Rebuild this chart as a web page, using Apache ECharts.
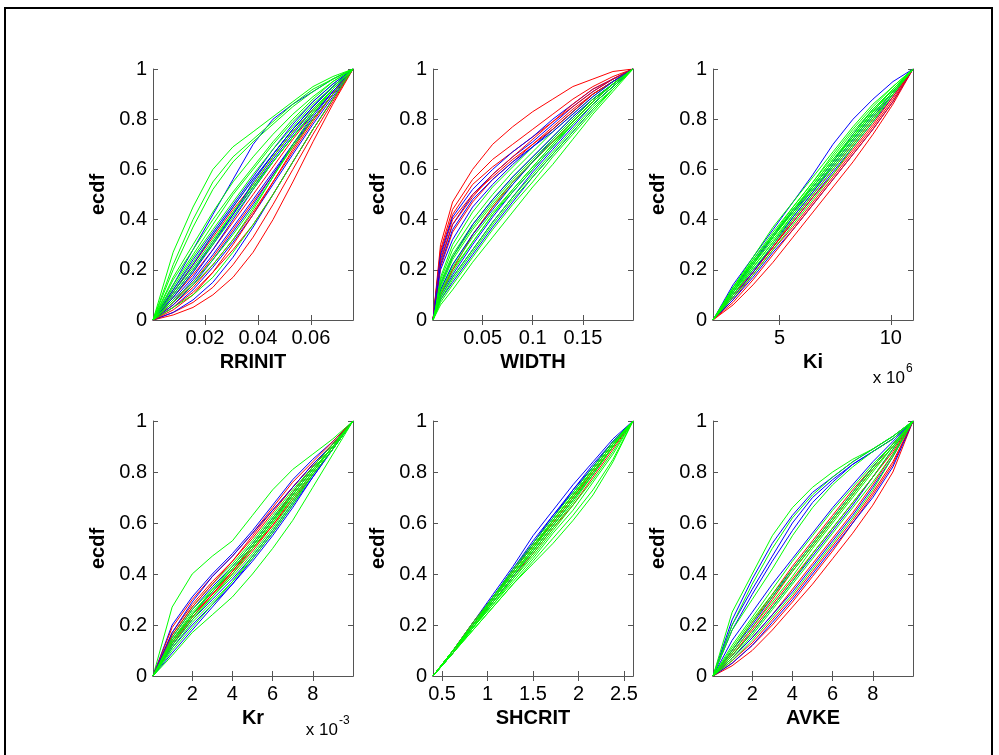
<!DOCTYPE html>
<html><head><meta charset="utf-8">
<script src="https://cdn.jsdelivr.net/npm/echarts@6/dist/echarts.min.js"></script>
<style>html,body{margin:0;padding:0;background:#fff}#c{width:999px;height:755px}</style>
</head><body><div id="c"></div>
<script>
// ---------- data ----------
const ecdfTicks = [0, 0.2, 0.4, 0.6, 0.8, 1];

const rrinitX = [0.0004,0.008,0.0155,0.023,0.0306,0.0382,0.0457,0.0532,0.0608,0.0683,0.0759];
const rrinitTicks = [0.02, 0.04, 0.06];
const rrinitCurves = [
 ['r',[0,0.02,0.05,0.10,0.17,0.27,0.40,0.55,0.71,0.86,1]],
 ['b',[0,0.14,0.28,0.42,0.56,0.70,0.80,0.86,0.91,0.96,1]],
 ['g',[0,0.27,0.45,0.60,0.69,0.75,0.81,0.87,0.93,0.97,1]],
 ['r',[0,0.03,0.07,0.13,0.22,0.33,0.46,0.60,0.74,0.87,1]],
 ['b',[0,0.10,0.20,0.31,0.42,0.53,0.64,0.74,0.84,0.92,1]],
 ['g',[0,0.20,0.37,0.52,0.63,0.71,0.78,0.85,0.91,0.96,1]],
 ['r',[0,0.06,0.13,0.22,0.32,0.43,0.55,0.67,0.79,0.90,1]],
 ['b',[0,0.07,0.16,0.26,0.37,0.48,0.59,0.70,0.80,0.90,1]],
 ['g',[0,0.17,0.30,0.43,0.55,0.65,0.74,0.82,0.89,0.95,1]],
 ['r',[0,0.09,0.18,0.28,0.39,0.50,0.61,0.72,0.82,0.91,1]],
 ['b',[0,0.05,0.12,0.21,0.31,0.42,0.54,0.66,0.78,0.89,1]],
 ['g',[0,0.14,0.26,0.38,0.50,0.60,0.70,0.79,0.87,0.94,1]],
 ['r',[0,0.11,0.22,0.33,0.44,0.54,0.65,0.75,0.84,0.92,1]],
 ['b',[0,0.03,0.08,0.15,0.25,0.37,0.50,0.63,0.76,0.88,1]],
 ['g',[0,0.12,0.23,0.34,0.45,0.56,0.66,0.76,0.85,0.93,1]],
 ['b',[0,0.08,0.17,0.28,0.40,0.52,0.63,0.73,0.82,0.91,1]],
 ['r',[0,0.07,0.15,0.25,0.36,0.47,0.58,0.69,0.80,0.90,1]],
 ['g',[0,0.09,0.19,0.31,0.43,0.54,0.65,0.75,0.84,0.92,1]],
 ['b',[0,0.06,0.14,0.24,0.35,0.46,0.58,0.70,0.81,0.91,1]],
 ['r',[0,0.04,0.10,0.19,0.30,0.42,0.55,0.68,0.80,0.90,1]],
 ['b',[0,0.12,0.24,0.35,0.46,0.57,0.68,0.78,0.87,0.94,1]],
 ['r',[0,0.05,0.11,0.19,0.28,0.38,0.50,0.63,0.76,0.88,1]],
 ['b',[0,0.09,0.19,0.30,0.42,0.55,0.66,0.76,0.85,0.93,1]],
 ['b',[0,0.11,0.22,0.34,0.45,0.56,0.66,0.76,0.85,0.93,1]],
 ['g',[0,0.13,0.25,0.36,0.47,0.58,0.68,0.77,0.86,0.93,1]],
 ['g',[0,0.10,0.20,0.30,0.41,0.52,0.63,0.73,0.83,0.92,1]],
 ['g',[0,0.07,0.14,0.22,0.32,0.44,0.57,0.70,0.82,0.92,1]],
 ['g',[0,0.08,0.15,0.24,0.34,0.45,0.57,0.69,0.80,0.90,1]],
 ['g',[0,0.22,0.40,0.55,0.65,0.72,0.79,0.86,0.92,0.96,1]],
 ['g',[0,0.05,0.10,0.17,0.27,0.38,0.50,0.63,0.76,0.88,1]],
 ['g',[0,0.11,0.21,0.32,0.43,0.53,0.63,0.73,0.83,0.92,1]],
 ['g',[0,0.16,0.28,0.40,0.51,0.61,0.71,0.80,0.88,0.95,1]]
];

const widthX = [0.0005,0.008,0.02,0.04,0.06,0.08,0.1,0.12,0.14,0.16,0.18,0.2];
const widthTicks = [0.05, 0.1, 0.15];
const widthCurves = [
 ['r',[0,0.30,0.47,0.60,0.70,0.77,0.83,0.88,0.93,0.96,0.99,1]],
 ['b',[0,0.24,0.38,0.50,0.58,0.65,0.71,0.78,0.85,0.91,0.96,1]],
 ['g',[0,0.17,0.30,0.43,0.53,0.61,0.69,0.76,0.83,0.90,0.95,1]],
 ['r',[0,0.27,0.42,0.54,0.61,0.67,0.73,0.79,0.85,0.91,0.96,1]],
 ['b',[0,0.20,0.32,0.45,0.54,0.62,0.69,0.76,0.83,0.90,0.95,1]],
 ['g',[0,0.15,0.26,0.38,0.48,0.57,0.65,0.73,0.81,0.88,0.94,1]],
 ['r',[0,0.25,0.40,0.50,0.57,0.64,0.70,0.77,0.84,0.90,0.95,1]],
 ['b',[0,0.14,0.25,0.38,0.48,0.57,0.65,0.73,0.81,0.88,0.94,1]],
 ['g',[0,0.12,0.22,0.34,0.45,0.54,0.63,0.71,0.79,0.87,0.94,1]],
 ['r',[0,0.21,0.35,0.47,0.56,0.63,0.70,0.76,0.83,0.90,0.95,1]],
 ['b',[0,0.10,0.18,0.30,0.41,0.51,0.60,0.69,0.78,0.86,0.93,1]],
 ['g',[0,0.11,0.20,0.31,0.42,0.51,0.60,0.69,0.78,0.86,0.93,1]],
 ['r',[0,0.10,0.20,0.34,0.45,0.55,0.63,0.71,0.79,0.87,0.94,1]],
 ['b',[0,0.08,0.15,0.26,0.37,0.47,0.57,0.66,0.75,0.84,0.92,1]],
 ['r',[0,0.28,0.44,0.56,0.64,0.70,0.76,0.82,0.88,0.93,0.97,1]],
 ['b',[0,0.26,0.41,0.52,0.60,0.67,0.73,0.80,0.86,0.92,0.96,1]],
 ['g',[0,0.16,0.28,0.40,0.50,0.59,0.67,0.75,0.82,0.89,0.95,1]],
 ['b',[0,0.12,0.22,0.34,0.44,0.54,0.63,0.72,0.80,0.88,0.94,1]],
 ['r',[0,0.23,0.38,0.49,0.58,0.65,0.72,0.79,0.86,0.92,0.96,1]],
 ['b',[0,0.09,0.17,0.28,0.39,0.49,0.59,0.68,0.77,0.86,0.93,1]],
 ['b',[0,0.22,0.36,0.48,0.56,0.63,0.69,0.75,0.82,0.89,0.95,1]],
 ['g',[0,0.09,0.17,0.28,0.39,0.49,0.58,0.67,0.76,0.85,0.92,1]],
 ['g',[0,0.07,0.14,0.25,0.36,0.46,0.55,0.65,0.74,0.83,0.92,1]],
 ['g',[0,0.06,0.12,0.23,0.33,0.43,0.53,0.62,0.72,0.82,0.91,1]],
 ['g',[0,0.13,0.24,0.36,0.46,0.55,0.63,0.71,0.79,0.87,0.94,1]],
 ['g',[0,0.10,0.19,0.31,0.42,0.52,0.61,0.70,0.79,0.87,0.94,1]],
 ['g',[0,0.14,0.25,0.37,0.47,0.56,0.64,0.72,0.80,0.88,0.94,1]],
 ['g',[0,0.08,0.16,0.27,0.38,0.48,0.57,0.66,0.75,0.84,0.92,1]],
 ['g',[0,0.11,0.21,0.33,0.43,0.52,0.61,0.70,0.78,0.86,0.93,1]]
];

const kiX = [2,2.9,3.8,4.7,5.6,6.5,7.4,8.3,9.2,10.1,11];   // x 10^6
const kiTicks = [5, 10];
const kiCurves = [
 ['b',[0,0.14,0.25,0.36,0.47,0.58,0.70,0.80,0.88,0.95,1]],
 ['g',[0,0.13,0.24,0.35,0.45,0.55,0.66,0.76,0.85,0.93,1]],
 ['r',[0,0.06,0.14,0.23,0.33,0.43,0.53,0.63,0.74,0.86,1]],
 ['g',[0,0.12,0.23,0.33,0.43,0.53,0.63,0.73,0.83,0.92,1]],
 ['b',[0,0.10,0.20,0.29,0.39,0.49,0.59,0.69,0.79,0.89,1]],
 ['r',[0,0.08,0.18,0.28,0.37,0.47,0.57,0.67,0.77,0.88,1]],
 ['g',[0,0.11,0.21,0.31,0.41,0.51,0.62,0.72,0.82,0.91,1]],
 ['b',[0,0.08,0.17,0.27,0.36,0.46,0.56,0.66,0.76,0.87,1]],
 ['r',[0,0.10,0.19,0.29,0.40,0.50,0.60,0.70,0.80,0.90,1]],
 ['r',[0,0.09,0.19,0.29,0.39,0.49,0.58,0.68,0.78,0.89,1]],
 ['b',[0,0.12,0.23,0.34,0.43,0.52,0.62,0.72,0.82,0.91,1]],
 ['r',[0,0.07,0.16,0.26,0.36,0.46,0.56,0.66,0.76,0.87,1]],
 ['b',[0,0.09,0.19,0.30,0.41,0.51,0.61,0.71,0.81,0.90,1]],
 ['b',[0,0.11,0.22,0.33,0.44,0.53,0.63,0.74,0.84,0.92,1]],
 ['g',[0,0.10,0.20,0.30,0.40,0.50,0.60,0.70,0.80,0.90,1]],
 ['g',[0,0.09,0.18,0.28,0.38,0.48,0.58,0.69,0.79,0.90,1]],
 ['g',[0,0.11,0.22,0.32,0.42,0.52,0.61,0.71,0.81,0.91,1]],
 ['g',[0,0.12,0.22,0.34,0.44,0.54,0.64,0.74,0.84,0.92,1]],
 ['g',[0,0.12,0.24,0.34,0.45,0.55,0.65,0.75,0.84,0.92,1]],
 ['g',[0,0.11,0.23,0.33,0.43,0.54,0.64,0.73,0.83,0.92,1]],
 ['g',[0,0.10,0.21,0.31,0.42,0.52,0.62,0.72,0.82,0.91,1]],
 ['g',[0,0.13,0.23,0.33,0.44,0.53,0.63,0.73,0.83,0.92,1]],
 ['g',[0,0.13,0.25,0.37,0.47,0.57,0.67,0.77,0.86,0.93,1]]
];

const krX = [0.05,1,2,3,4,5,6,7,8,9,10];   // x 10^-3
const krTicks = [2, 4, 6, 8];
const krCurves = [
 ['g',[0,0.27,0.40,0.47,0.53,0.63,0.73,0.81,0.87,0.93,1]],
 ['b',[0,0.20,0.31,0.40,0.48,0.57,0.67,0.77,0.85,0.92,1]],
 ['r',[0,0.19,0.30,0.39,0.47,0.56,0.66,0.76,0.84,0.92,1]],
 ['g',[0,0.16,0.27,0.36,0.44,0.53,0.63,0.73,0.82,0.91,1]],
 ['r',[0,0.17,0.28,0.37,0.45,0.54,0.64,0.74,0.83,0.91,1]],
 ['b',[0,0.15,0.26,0.35,0.43,0.52,0.62,0.72,0.82,0.91,1]],
 ['g',[0,0.14,0.25,0.33,0.41,0.50,0.60,0.71,0.81,0.90,1]],
 ['r',[0,0.14,0.24,0.32,0.40,0.49,0.59,0.70,0.80,0.90,1]],
 ['b',[0,0.11,0.20,0.28,0.36,0.45,0.55,0.66,0.78,0.89,1]],
 ['r',[0,0.16,0.27,0.36,0.45,0.55,0.65,0.74,0.83,0.91,1]],
 ['b',[0,0.17,0.29,0.39,0.47,0.56,0.65,0.74,0.83,0.91,1]],
 ['r',[0,0.13,0.23,0.32,0.41,0.50,0.59,0.69,0.79,0.89,1]],
 ['r',[0,0.12,0.23,0.32,0.41,0.51,0.61,0.72,0.82,0.91,1]],
 ['b',[0,0.12,0.22,0.30,0.38,0.47,0.57,0.68,0.79,0.89,1]],
 ['b',[0,0.09,0.18,0.27,0.36,0.46,0.56,0.67,0.78,0.89,1]],
 ['b',[0,0.13,0.24,0.33,0.42,0.51,0.61,0.71,0.81,0.90,1]],
 ['g',[0,0.13,0.23,0.31,0.39,0.48,0.58,0.69,0.80,0.90,1]],
 ['g',[0,0.11,0.21,0.29,0.37,0.46,0.56,0.67,0.79,0.89,1]],
 ['g',[0,0.08,0.17,0.24,0.31,0.40,0.50,0.61,0.74,0.87,1]],
 ['g',[0,0.15,0.26,0.34,0.42,0.51,0.61,0.71,0.81,0.90,1]],
 ['g',[0,0.13,0.24,0.34,0.43,0.52,0.62,0.72,0.82,0.91,1]],
 ['g',[0,0.12,0.22,0.31,0.40,0.50,0.60,0.70,0.80,0.90,1]],
 ['g',[0,0.10,0.19,0.28,0.37,0.47,0.57,0.68,0.79,0.89,1]],
 ['g',[0,0.14,0.24,0.33,0.42,0.51,0.61,0.71,0.81,0.90,1]]
];

const shcritX = [0.4,0.62,0.84,1.06,1.28,1.5,1.72,1.94,2.16,2.38,2.6];
const shcritTicks = [0.5, 1, 1.5, 2, 2.5];
const shcritCurves = [
 ['b',[0,0.10,0.21,0.32,0.43,0.55,0.65,0.75,0.84,0.93,1]],
 ['r',[0,0.10,0.20,0.30,0.40,0.50,0.60,0.70,0.80,0.90,1]],
 ['b',[0,0.09,0.20,0.30,0.41,0.52,0.62,0.73,0.82,0.92,1]],
 ['r',[0,0.10,0.20,0.29,0.39,0.48,0.58,0.67,0.78,0.89,1]],
 ['b',[0,0.09,0.19,0.29,0.39,0.49,0.59,0.69,0.79,0.90,1]],
 ['r',[0,0.09,0.20,0.31,0.41,0.51,0.60,0.70,0.80,0.90,1]],
 ['b',[0,0.10,0.21,0.31,0.42,0.53,0.63,0.73,0.83,0.92,1]],
 ['r',[0,0.10,0.21,0.31,0.41,0.51,0.61,0.71,0.81,0.91,1]],
 ['b',[0,0.10,0.20,0.31,0.42,0.52,0.63,0.72,0.82,0.92,1]],
 ['g',[0,0.10,0.20,0.30,0.41,0.51,0.61,0.71,0.81,0.91,1]],
 ['g',[0,0.10,0.19,0.29,0.39,0.49,0.59,0.69,0.80,0.90,1]],
 ['g',[0,0.09,0.19,0.28,0.38,0.47,0.57,0.67,0.77,0.88,1]],
 ['g',[0,0.09,0.18,0.27,0.36,0.45,0.54,0.63,0.73,0.85,1]],
 ['g',[0,0.09,0.18,0.27,0.36,0.44,0.52,0.61,0.71,0.84,1]],
 ['g',[0,0.10,0.20,0.30,0.40,0.50,0.60,0.70,0.81,0.91,1]],
 ['g',[0,0.10,0.21,0.31,0.42,0.52,0.62,0.72,0.82,0.92,1]],
 ['g',[0,0.09,0.19,0.30,0.40,0.50,0.61,0.71,0.81,0.91,1]],
 ['g',[0,0.10,0.20,0.31,0.41,0.51,0.61,0.71,0.81,0.91,1]],
 ['g',[0,0.09,0.19,0.29,0.38,0.48,0.58,0.68,0.79,0.90,1]],
 ['g',[0,0.10,0.19,0.28,0.37,0.46,0.56,0.65,0.76,0.87,1]],
 ['g',[0,0.10,0.20,0.30,0.40,0.49,0.59,0.69,0.79,0.90,1]]
];

const avkeX = [0.05,1,2,3,4,5,6,7,8,9,10];
const avkeTicks = [2, 4, 6, 8];
const avkeCurves = [
 ['r',[0,0.04,0.10,0.18,0.27,0.36,0.46,0.56,0.67,0.80,1]],
 ['b',[0,0.22,0.38,0.52,0.63,0.72,0.78,0.84,0.89,0.94,1]],
 ['r',[0,0.10,0.21,0.32,0.43,0.53,0.63,0.73,0.82,0.91,1]],
 ['b',[0,0.20,0.34,0.47,0.60,0.70,0.77,0.83,0.88,0.93,1]],
 ['r',[0,0.07,0.15,0.24,0.34,0.44,0.54,0.64,0.75,0.87,1]],
 ['b',[0,0.14,0.25,0.36,0.46,0.56,0.66,0.75,0.84,0.92,1]],
 ['r',[0,0.05,0.12,0.20,0.29,0.39,0.49,0.60,0.71,0.83,1]],
 ['b',[0,0.08,0.17,0.27,0.37,0.47,0.57,0.67,0.78,0.89,1]],
 ['b',[0,0.05,0.12,0.21,0.30,0.40,0.50,0.60,0.70,0.82,1]],
 ['r',[0,0.08,0.18,0.28,0.38,0.48,0.58,0.68,0.78,0.88,1]],
 ['b',[0,0.18,0.32,0.45,0.57,0.68,0.76,0.83,0.88,0.93,1]],
 ['r',[0,0.09,0.19,0.30,0.41,0.51,0.61,0.71,0.81,0.90,1]],
 ['b',[0,0.10,0.20,0.31,0.42,0.52,0.62,0.72,0.82,0.91,1]],
 ['r',[0,0.06,0.13,0.22,0.31,0.41,0.51,0.61,0.72,0.84,1]],
 ['b',[0,0.07,0.15,0.24,0.33,0.43,0.53,0.63,0.74,0.86,1]],
 ['g',[0,0.25,0.40,0.55,0.66,0.74,0.80,0.85,0.89,0.94,1]],
 ['g',[0,0.18,0.30,0.42,0.55,0.66,0.75,0.82,0.88,0.93,1]],
 ['g',[0,0.12,0.23,0.34,0.45,0.55,0.65,0.74,0.83,0.91,1]],
 ['g',[0,0.09,0.19,0.29,0.39,0.50,0.60,0.70,0.80,0.90,1]],
 ['g',[0,0.06,0.14,0.23,0.32,0.42,0.52,0.62,0.73,0.86,1]],
 ['g',[0,0.07,0.16,0.26,0.36,0.46,0.56,0.66,0.76,0.87,1]],
 ['g',[0,0.10,0.21,0.31,0.41,0.51,0.61,0.71,0.81,0.90,1]],
 ['g',[0,0.20,0.36,0.50,0.62,0.71,0.78,0.84,0.89,0.94,1]],
 ['g',[0,0.11,0.22,0.32,0.42,0.52,0.62,0.72,0.82,0.91,1]],
 ['g',[0,0.08,0.17,0.27,0.37,0.48,0.58,0.68,0.78,0.89,1]]
];

// ---------- layout / style ----------
const COLORS = {r:'#ff0000', b:'#0000ff', g:'#00ff00'};
const FONT = 'Liberation Sans, Arial, Helvetica, sans-serif';
const LEFT = [153, 433, 713], TOP = [69, 421], PW = 200, PH = [251, 255];
const AXC = '#555';

const panels = [
 {name:'RRINIT', x:rrinitX, ticks:rrinitTicks, curves:rrinitCurves},
 {name:'WIDTH',  x:widthX,  ticks:widthTicks,  curves:widthCurves},
 {name:'Ki',     x:kiX,     ticks:kiTicks,     curves:kiCurves, exp:'6'},
 {name:'Kr',     x:krX,     ticks:krTicks,     curves:krCurves, exp:'-3'},
 {name:'SHCRIT', x:shcritX, ticks:shcritTicks, curves:shcritCurves},
 {name:'AVKE',   x:avkeX,   ticks:avkeTicks,   curves:avkeCurves}
];

const grid = [], xAxis = [], yAxis = [], series = [];
const graphic = [{type:'rect', shape:{x:5, y:8, width:987, height:800},
  style:{fill:'none', stroke:'#000', lineWidth:2}, silent:true}];

panels.forEach((p, i) => {
  const row = Math.floor(i / 3), col = i % 3;
  grid.push({left:LEFT[col], top:TOP[row], width:PW, height:PH[row], outerBoundsMode:'none', containLabel:false});
  const xmin = p.x[0], xmax = p.x[p.x.length - 1];
  const line = {show:true, lineStyle:{color:AXC, width:1}};
  xAxis.push({gridIndex:i, type:'value', min:xmin, max:xmax, position:'bottom',
    axisLine:line, splitLine:{show:false},
    axisTick:{inside:true, length:5, customValues:p.ticks, lineStyle:{color:AXC}},
    axisLabel:{customValues:p.ticks, fontSize:20, color:'#000', fontFamily:FONT, margin:8},
    name:p.name, nameLocation:'middle', nameGap:32,
    nameTextStyle:{fontSize:20, fontWeight:'bold', color:'#000', fontFamily:FONT}});
  xAxis.push({gridIndex:i, type:'value', min:xmin, max:xmax, position:'top',
    axisLine:line, splitLine:{show:false}, axisLabel:{show:false},
    axisTick:{inside:true, length:5, customValues:p.ticks, lineStyle:{color:AXC}}});
  yAxis.push({gridIndex:i, type:'value', min:0, max:1, interval:0.2, position:'left',
    axisLine:line, splitLine:{show:false},
    axisTick:{inside:true, length:5, lineStyle:{color:AXC}},
    axisLabel:{fontSize:20, color:'#000', fontFamily:FONT, margin:6},
    name:'ecdf', nameLocation:'middle', nameGap:45, nameRotate:90,
    nameTextStyle:{fontSize:20, fontWeight:'bold', color:'#000', fontFamily:FONT}});
  yAxis.push({gridIndex:i, type:'value', min:0, max:1, interval:0.2, position:'right',
    axisLine:line, splitLine:{show:false}, axisLabel:{show:false},
    axisTick:{inside:true, length:5, lineStyle:{color:AXC}}});
  p.curves.forEach(([c, ys]) => {
    series.push({type:'line', xAxisIndex:2*i, yAxisIndex:2*i, symbol:'none', silent:true,
      lineStyle:{color:COLORS[c], width:1}, data:p.x.map((xv, k) => [xv, ys[k]])});
  });
  if (p.exp) {
    const xr = LEFT[col] + PW, yb = TOP[row] + PH[row] + (row === 0 ? 58 : 54);
    const supW = p.exp.length * 7;
    graphic.push({type:'text', x:xr - supW - 1, y:yb, silent:true,
      style:{text:'x 10', fontSize:17, fontFamily:FONT, fill:'#000', align:'right', verticalAlign:'middle'}});
    graphic.push({type:'text', x:xr - supW, y:yb - 9, silent:true,
      style:{text:p.exp, fontSize:12, fontFamily:FONT, fill:'#000', align:'left', verticalAlign:'middle'}});
  }
});

const chart = echarts.init(document.getElementById('c'), null, {renderer:'canvas'});
chart.setOption({animation:false, backgroundColor:'#fff', grid, xAxis, yAxis, series, graphic});
</script></body></html>
